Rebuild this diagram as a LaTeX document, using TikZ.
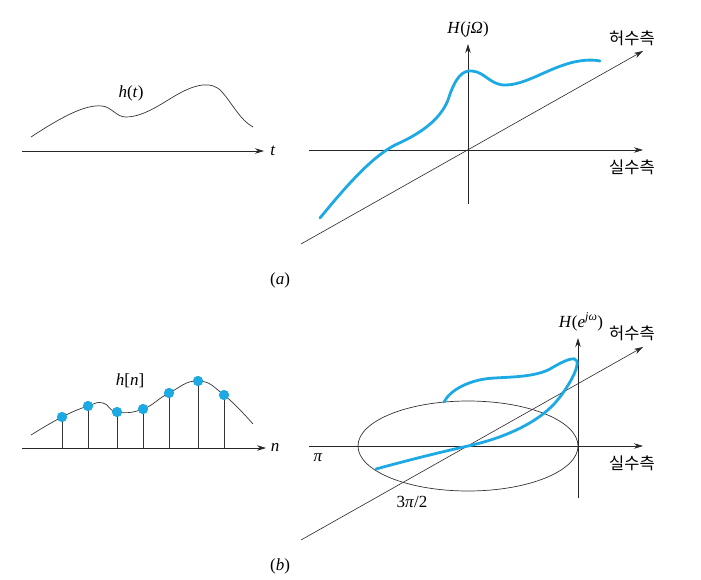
\documentclass[tikz,border=0pt]{standalone}
\usepackage{fontspec}
\setmainfont{Liberation Serif}
\newfontfamily\kr{Noto Sans CJK KR}
\usetikzlibrary{arrows.meta}
\definecolor{skyb}{HTML}{1DA9E3}
\begin{document}
\begin{tikzpicture}[x=1pt,y=-1pt,
  ax/.style={line width=0.8pt, draw=black!85, -{Stealth[length=9pt,width=5.5pt]}},
  thinln/.style={line width=0.7pt, draw=black!80},
  bcurve/.style={line width=2.8pt, draw=skyb, line cap=round},
  lbl/.style={font=\fontsize{17}{17}\selectfont, inner sep=0pt},
  kor/.style={font=\fontsize{16.5}{16.5}\kr, inner sep=0pt},
  dot/.style={circle, fill=skyb, inner sep=0pt, minimum size=10pt}
]
\useasboundingbox (0,0) rectangle (701,580);

% ---------- (a) left ----------
\coordinate (ta0) at (22,151);
\coordinate (ta1) at (264,151);
\draw[ax] (ta0) -- (ta1);
\node[lbl] (tl) at (273,151) {\textit{t}};
\draw[thinln] (31,137) .. controls (60,118) and (85,104) .. (102,106)
  .. controls (112,107) and (116,117) .. (126,117)
  .. controls (145,117) and (165,101) .. (180,93)
  .. controls (195,85) and (212,80) .. (222,92)
  .. controls (232,103) and (240,120) .. (253,127);
\node[lbl] (htl) at (131,93) {\textit{h}(\textit{t})};

% ---------- (a) right ----------
\coordinate (ox) at (468,150);
\coordinate (ra0) at (309,150);
\coordinate (ra1) at (643,150);
\coordinate (va0) at (468,204);
\coordinate (va1) at (468,44);
\coordinate (da0) at (301,244);
\coordinate (da1) at (643,51);
\draw[ax] (ra0) -- (ra1);
\draw[ax] (va0) -- (va1);
\draw[ax, line width=0.6pt] (da0) -- (da1);
\draw[bcurve] (320,218) .. controls (343,190) and (370,158) .. (395,145)
  .. controls (420,134) and (440,120) .. (448,100)
  .. controls (455,78) and (462,70) .. (472,71)
  .. controls (485,72) and (490,85) .. (505,85)
  .. controls (525,85) and (545,70) .. (570,63)
  .. controls (585,59) and (595,60) .. (600,61);
\node[lbl] (Hj) at (468,29) {\textit{H}(\textit{jΩ})};
\node[kor] (ia) at (632,38) {허수측};
\node[kor] (rea) at (632,167) {실수측};
\node[lbl] (la) at (280,280) {(\textit{a})};

% ---------- (b) left ----------
\coordinate (na0) at (22,448);
\coordinate (na1) at (266,448);
\draw[ax] (na0) -- (na1);
\node[lbl] (nl) at (275,447) {\textit{n}};
\draw[thinln] plot[smooth, tension=0.8] coordinates {(31,435) (62,417) (88,406) (103,403) (117,412) (143,409) (169,393) (198,381) (224,395) (253,424)};
\foreach \i/\x/\y in {1/62/417, 2/88/406, 3/117/412, 4/143/409, 5/169/393, 6/198/381, 7/224/395} {
  \node[dot] (d\i) at (\x,\y) {};
  \draw[thinln] (d\i.center) -- (d\i.center |- na0);
  \node[dot] at (d\i) {};
}
\node[lbl] (hnl) at (130,381) {\textit{h}[\textit{n}]};

% ---------- (b) right ----------
\coordinate (oy) at (468,446);
\coordinate (rb0) at (309,446);
\coordinate (rb1) at (643,446);
\coordinate (vb0) at (578,498);
\coordinate (vb1) at (578,338);
\coordinate (db0) at (301,540);
\coordinate (db1) at (643,347);
\draw[ax] (rb0) -- (rb1);
\draw[ax] (vb0) -- (vb1);
\draw[ax, line width=0.6pt] (db0) -- (db1);
\draw[thinln] (oy) ellipse [x radius=110pt, y radius=45pt];
\draw[bcurve] (376,469) .. controls (420,457) and (450,450) .. (468,446)
  .. controls (500,439) and (535,425) .. (555,403)
  .. controls (568,388) and (579,368) .. (577,361)
  .. controls (575,356) and (565,360) .. (550,369)
  .. controls (535,377) and (510,377) .. (495,378)
  .. controls (470,379) and (450,390) .. (444,402);
\node[lbl] (He) at (581,322) {\textit{H}(\textit{e}\textsuperscript{\textit{jω}})};
\node[kor] (ib) at (632,333) {허수측};
\node[kor] (reb) at (632,463) {실수측};
\node[lbl] (pil) at (318,458) {\textit{π}};
\node[lbl] (p32) at (412,502) {3\textit{π}/2};
\node[lbl] (lb) at (280,566) {(\textit{b})};
\end{tikzpicture}
\end{document}
